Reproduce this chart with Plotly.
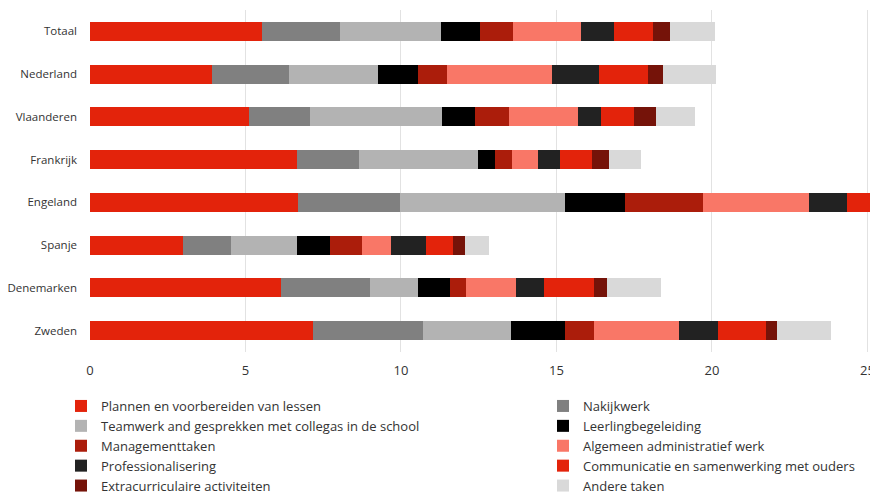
import plotly.graph_objects as go

countries = ["Totaal", "Nederland", "Vlaanderen", "Frankrijk", "Engeland", "Spanje", "Denemarken", "Zweden"]

series_names = [
    "Plannen en voorbereiden van lessen",
    "Nakijkwerk",
    "Teamwerk and gesprekken met collegas in de school",
    "Leerlingbegeleiding",
    "Managementtaken",
    "Algemeen administratief werk",
    "Professionalisering",
    "Communicatie en samenwerking met ouders",
    "Extracurriculaire activiteiten",
    "Andere taken",
]

plannen       = [5.53, 3.92, 5.11, 6.67, 6.70, 3.00, 6.14, 7.18]
nakijkwerk    = [2.52, 2.48, 1.96, 1.99, 3.28, 1.53, 2.86, 3.53]
teamwerk      = [3.24, 2.86, 4.25, 3.81, 5.29, 2.13, 1.56, 2.84]
leerling      = [1.24, 1.29, 1.05, 0.56, 1.94, 1.07, 1.01, 1.73]
management    = [1.07, 0.94, 1.11, 0.53, 2.50, 1.03, 0.53, 0.93]
administratie = [2.18, 3.37, 2.21, 0.86, 3.41, 0.93, 1.61, 2.74]
professional  = [1.07, 1.51, 0.73, 0.70, 1.21, 1.12, 0.88, 1.24]
communicatie  = [1.26, 1.56, 1.08, 1.03, 1.40, 0.85, 1.62, 1.54]
extra         = [0.55, 0.49, 0.70, 0.54, 0.50, 0.39, 0.42, 0.36]
andere        = [1.45, 1.70, 1.24, 1.02, 1.30, 0.77, 1.74, 1.73]

series_values = [plannen, nakijkwerk, teamwerk, leerling, management,
                 administratie, professional, communicatie, extra, andere]

colors = ["#e3230b", "#808080", "#b3b3b3", "#000000", "#ab1d0b",
          "#f97767", "#222222", "#e3230b", "#751309", "#d9d9d9"]

x_ticks = [0, 5, 10, 15, 20, 25]

fig = go.Figure()
for i, (name, vals, col) in enumerate(zip(series_names, series_values, colors)):
    fig.add_trace(go.Bar(
        y=countries, x=vals, name=name, orientation="h",
        marker=dict(color=col, line=dict(width=0)),
        legend="legend" if i % 2 == 0 else "legend2",
    ))

# page body has an 8px default margin; size the figure so it ends at the window edge
OFF = 8
W, H = 878 - OFF, 496 - OFF
legend_common = dict(
    orientation="v",
    xref="container", yref="container",
    xanchor="left",
    y=1 - 383 / H, yanchor="top",
    traceorder="normal",
    font=dict(size=13, color="#333333"),
    itemclick=False, itemdoubleclick=False,
    bgcolor="rgba(0,0,0,0)",
)

fig.update_layout(
    width=W, height=H,
    barmode="stack",
    bargap=0.55,
    paper_bgcolor="white",
    plot_bgcolor="white",
    margin=dict(l=90 - OFF, r=0, t=10 - OFF, b=H - (352 - OFF), pad=0, autoexpand=False),
    font=dict(family="Open Sans, sans-serif", size=12, color="#333333"),
    xaxis=dict(
        range=[0, 25.34],
        tickvals=x_ticks,
        showgrid=True, gridcolor="#e2e2e2", gridwidth=1,
        zeroline=False, showline=False,
        ticks="", ticklabelstandoff=9,
        tickfont=dict(size=13, color="#333333"),
        automargin=False,
        fixedrange=True,
    ),
    yaxis=dict(
        categoryorder="array", categoryarray=countries,
        autorange="reversed",
        showgrid=False, zeroline=False, showline=False,
        ticks="", ticklabelstandoff=12,
        tickfont=dict(size=11.5, color="#333333"),
        automargin=False,
    ),
    showlegend=True,
    legend=dict(x=53 / W, **legend_common),
    legend2=dict(x=535 / W, **legend_common),
)

fig.write_html("out.html")
